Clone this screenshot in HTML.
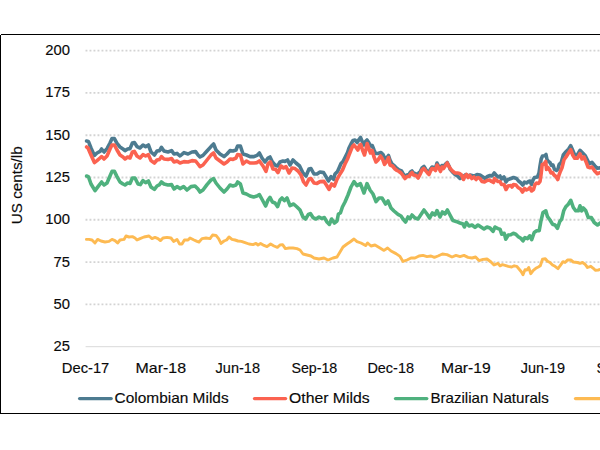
<!DOCTYPE html>
<html><head><meta charset="utf-8"><title>Chart</title>
<style>
html,body{margin:0;padding:0;background:#fff;}
body{width:600px;height:450px;overflow:hidden;font-family:"Liberation Sans",sans-serif;}
svg{display:block}
svg text{font-family:"Liberation Sans",sans-serif;fill:#0a0a0a;stroke:#0a0a0a;stroke-width:0.15px;}
</style></head><body>
<svg width="600" height="450" viewBox="0 0 600 450">
<rect x="0" y="0" width="600" height="450" fill="#fff"/>
<g shape-rendering="crispEdges" fill="#000"><rect x="1" y="34" width="599" height="1"/><rect x="0" y="35" width="1" height="379"/><rect x="0" y="413" width="600" height="1"/></g>
<line x1="85.5" y1="50.6" x2="600" y2="50.6" stroke="#d3d3d3" stroke-width="1.9" stroke-dasharray="1.9 2.1"/>
<line x1="85.5" y1="92.9" x2="600" y2="92.9" stroke="#d3d3d3" stroke-width="1.9" stroke-dasharray="1.9 2.1"/>
<line x1="85.5" y1="135.2" x2="600" y2="135.2" stroke="#d3d3d3" stroke-width="1.9" stroke-dasharray="1.9 2.1"/>
<line x1="85.5" y1="177.5" x2="600" y2="177.5" stroke="#d3d3d3" stroke-width="1.9" stroke-dasharray="1.9 2.1"/>
<line x1="85.5" y1="219.8" x2="600" y2="219.8" stroke="#d3d3d3" stroke-width="1.9" stroke-dasharray="1.9 2.1"/>
<line x1="85.5" y1="262.1" x2="600" y2="262.1" stroke="#d3d3d3" stroke-width="1.9" stroke-dasharray="1.9 2.1"/>
<line x1="85.5" y1="304.4" x2="600" y2="304.4" stroke="#d3d3d3" stroke-width="1.9" stroke-dasharray="1.9 2.1"/>
<line x1="85.6" y1="346.7" x2="600" y2="346.7" stroke="#d9d9d9" stroke-width="1"/>
<text x="70" y="55.0" font-size="14.8" text-anchor="end">200</text>
<text x="70" y="97.3" font-size="14.8" text-anchor="end">175</text>
<text x="70" y="139.6" font-size="14.8" text-anchor="end">150</text>
<text x="70" y="181.9" font-size="14.8" text-anchor="end">125</text>
<text x="70" y="224.2" font-size="14.8" text-anchor="end">100</text>
<text x="70" y="266.5" font-size="14.8" text-anchor="end">75</text>
<text x="70" y="308.8" font-size="14.8" text-anchor="end">50</text>
<text x="70" y="351.1" font-size="14.8" text-anchor="end">25</text>
<text transform="translate(22.3,185.3) rotate(-90)" font-size="14.8" text-anchor="middle" textLength="78" lengthAdjust="spacingAndGlyphs">US cents/lb</text>
<text x="61.800000000000004" y="373.4" font-size="14.8" textLength="47.5" lengthAdjust="spacingAndGlyphs">Dec-17</text>
<text x="135.5" y="373.4" font-size="14.8" textLength="50.5" lengthAdjust="spacingAndGlyphs">Mar-18</text>
<text x="215.6" y="373.4" font-size="14.8" textLength="44.4" lengthAdjust="spacingAndGlyphs">Jun-18</text>
<text x="291.40000000000003" y="373.4" font-size="14.8" textLength="45.9" lengthAdjust="spacingAndGlyphs">Sep-18</text>
<text x="367.40000000000003" y="373.4" font-size="14.8" textLength="46.6" lengthAdjust="spacingAndGlyphs">Dec-18</text>
<text x="441.1" y="373.4" font-size="14.8" textLength="49.6" lengthAdjust="spacingAndGlyphs">Mar-19</text>
<text x="520.8000000000001" y="373.4" font-size="14.8" textLength="44.2" lengthAdjust="spacingAndGlyphs">Jun-19</text>
<text x="596.4" y="373.4" font-size="14.8" textLength="46.6" lengthAdjust="spacingAndGlyphs">Sep-19</text>
<polyline points="86.4,239.4 89.0,239.4 92.0,240.0 95.0,243.0 97.6,239.4 101.0,241.0 105.0,242.0 109.0,241.4 112.0,239.4 115.0,240.6 117.6,243.0 120.0,240.0 124.0,239.4 126.0,236.0 129.0,237.0 132.4,236.6 135.0,238.0 137.0,240.0 140.0,238.6 144.0,237.0 149.0,236.0 152.0,238.6 155.0,237.4 158.0,238.6 160.4,240.6 163.0,238.0 167.0,237.4 171.0,238.0 173.6,241.4 177.0,239.4 179.6,244.0 182.0,244.0 184.4,240.0 188.0,240.0 190.0,238.0 194.0,240.0 197.0,241.4 199.0,242.0 202.0,238.6 206.0,238.0 210.0,238.6 212.6,235.0 216.0,235.4 218.6,238.6 221.0,243.4 224.0,241.0 226.6,240.0 229.0,237.0 232.0,239.4 235.0,240.0 238.0,241.0 241.4,241.4 245.0,242.6 249.0,244.0 253.0,244.6 256.0,243.4 258.0,245.0 260.6,243.4 264.0,245.4 267.0,246.6 270.6,244.0 274.0,246.0 277.4,247.4 280.0,245.0 282.6,244.6 285.4,248.6 289.0,248.0 293.0,248.0 297.0,248.6 300.0,250.0 303.0,254.0 307.0,255.0 311.0,256.0 314.0,258.0 319.0,259.0 324.0,258.0 328.0,260.0 333.0,258.0 337.0,257.0 340.0,252.0 343.0,247.0 347.0,244.0 350.0,242.0 354.0,239.0 357.0,241.6 361.0,243.0 365.6,245.6 367.6,243.0 371.0,246.0 375.0,245.0 380.0,248.0 384.0,250.4 387.6,248.0 391.0,251.0 396.0,253.6 400.0,256.4 403.0,261.4 407.0,260.0 411.0,258.0 415.0,258.0 419.0,256.0 423.0,255.4 427.0,256.6 431.0,256.0 434.4,257.4 438.0,256.0 442.4,254.0 447.0,254.6 452.0,257.0 456.0,255.4 460.0,256.6 464.0,255.4 468.0,257.4 472.0,258.0 475.6,257.0 479.0,260.6 483.0,259.4 487.0,259.0 491.0,262.0 494.0,265.0 498.0,263.4 500.0,265.8 502.5,264.7 505.0,265.3 508.3,266.3 511.7,267.0 514.2,265.8 516.7,266.3 519.2,269.2 521.3,271.7 523.0,274.7 525.0,269.7 527.0,270.0 528.7,267.5 530.8,273.7 533.3,270.3 535.8,268.3 538.3,267.0 540.3,265.8 542.5,259.2 545.3,258.7 547.5,261.3 550.0,262.5 552.5,265.0 555.0,266.3 558.0,268.7 560.0,265.8 563.0,261.7 565.0,262.5 567.5,260.0 570.8,260.0 573.3,262.0 577.5,262.5 580.0,263.3 582.5,262.5 585.0,264.2 587.5,267.5 590.8,266.3 593.3,268.3 595.3,270.3 598.3,270.0 601.0,269.2" fill="none" stroke="#fdba52" stroke-width="2.9" stroke-linejoin="round" stroke-linecap="round"/>
<polyline points="86.6,176.0 88.4,176.6 91.0,184.0 95.0,190.6 98.0,186.6 101.6,182.0 104.0,185.0 107.0,183.0 110.0,176.0 112.0,171.4 114.4,171.4 117.0,176.6 120.0,182.0 123.0,184.0 125.0,185.0 127.6,183.0 130.0,183.4 132.4,178.0 135.0,178.0 138.0,184.0 140.4,184.6 143.0,180.6 145.6,182.6 148.4,181.0 151.0,187.0 154.4,189.4 157.0,186.0 159.6,184.6 161.4,182.0 164.0,184.0 168.0,185.0 171.6,184.6 174.0,189.0 177.0,186.6 180.0,188.6 183.6,186.6 187.0,190.0 191.0,186.6 195.0,186.0 198.0,189.0 200.0,192.0 203.0,190.0 207.0,184.6 211.0,180.0 213.6,178.6 216.0,183.0 220.0,188.0 224.0,192.0 227.0,189.0 230.0,185.0 233.0,186.0 236.0,185.0 237.6,182.0 240.4,184.0 243.0,193.0 246.4,194.0 250.0,196.0 253.6,197.0 257.0,196.0 259.4,194.6 262.4,200.0 265.6,206.0 268.0,200.0 270.0,197.4 272.4,202.0 275.0,203.0 277.6,206.6 280.0,200.0 282.0,198.0 284.4,200.6 287.0,198.0 290.0,205.6 293.6,204.0 297.0,207.0 300.0,210.0 303.0,217.0 305.6,219.0 308.4,214.4 310.4,213.6 313.0,217.6 316.0,219.0 319.0,217.0 321.6,218.4 324.4,217.6 327.0,222.0 329.4,224.4 331.6,219.0 334.4,223.0 337.0,221.0 338.4,214.0 340.4,213.0 342.4,207.0 345.0,202.0 348.0,195.0 351.0,187.0 354.0,181.6 357.0,185.6 360.4,183.6 364.0,193.0 367.0,183.6 370.0,190.0 373.0,194.0 376.0,201.6 379.0,198.0 382.0,198.0 385.6,204.0 388.0,201.0 391.0,208.0 394.0,211.0 398.0,214.4 401.0,216.0 403.0,219.0 405.6,222.0 408.0,217.0 410.0,218.6 412.0,215.0 415.0,218.0 418.0,219.0 421.0,214.6 424.0,210.0 427.0,214.0 429.6,218.0 432.4,213.0 435.0,215.0 437.0,210.6 440.0,217.0 442.4,212.0 445.0,214.0 447.4,210.0 450.0,215.0 453.0,220.6 456.0,221.4 460.0,223.0 463.0,224.0 464.4,227.0 466.4,222.6 469.0,226.0 472.0,225.0 475.0,227.4 478.0,225.0 481.0,227.0 484.0,229.0 487.0,227.0 490.0,228.0 493.0,231.4 495.0,227.0 498.0,228.6 500.0,229.2 501.7,234.2 504.2,233.3 505.8,239.2 508.3,235.0 510.8,234.7 513.3,233.3 515.8,234.2 518.3,236.7 520.8,238.3 523.0,240.8 525.0,237.5 527.5,238.7 529.7,235.8 531.7,239.7 534.2,232.5 536.7,230.8 539.2,230.8 540.8,221.7 543.0,212.5 545.8,210.8 547.5,216.7 550.0,220.0 552.5,224.2 555.0,225.0 557.5,228.3 559.7,221.7 561.7,219.2 563.7,210.8 565.8,206.7 568.3,204.2 570.8,200.3 573.3,207.5 575.8,210.8 578.3,210.8 580.0,205.8 581.7,210.8 583.3,208.0 585.8,210.8 588.3,217.5 591.3,217.5 594.2,222.5 597.5,225.0 601.0,222.5" fill="none" stroke="#4fb17e" stroke-width="3.6" stroke-linejoin="round" stroke-linecap="round"/>
<polyline points="86.6,141.0 88.4,141.4 91.0,148.0 94.4,155.4 97.0,153.0 100.0,151.4 101.6,149.0 104.0,152.0 107.0,148.6 110.0,143.0 112.0,138.6 114.4,138.6 117.0,143.4 120.0,147.0 123.0,149.0 125.0,150.6 127.6,149.0 130.0,148.6 132.4,143.0 134.4,142.6 137.0,146.6 140.0,148.0 143.0,145.0 145.6,146.6 148.4,145.0 151.0,152.0 154.4,155.0 157.0,151.0 159.6,150.6 161.4,147.4 164.0,151.0 168.0,152.0 171.6,150.6 174.0,154.0 177.0,153.4 180.0,156.0 184.0,152.6 188.0,154.0 192.0,152.0 195.6,151.6 198.0,155.0 200.0,157.0 203.0,155.4 207.0,151.0 211.0,146.6 213.6,144.0 216.0,150.0 220.0,154.0 224.0,156.6 227.0,154.0 230.0,150.6 233.0,151.0 236.0,150.0 237.6,146.0 240.4,146.0 243.0,154.0 246.4,155.0 250.0,156.6 254.0,156.6 257.0,155.4 259.4,153.0 262.0,158.0 265.0,162.0 268.0,158.0 270.0,157.0 272.4,162.0 275.0,165.0 277.6,166.0 280.0,162.0 283.0,161.0 285.0,161.4 287.6,160.0 290.0,165.0 293.0,160.0 296.0,163.0 299.6,166.0 303.0,173.0 306.0,176.0 309.0,169.0 311.0,168.6 314.0,174.0 317.0,174.0 320.0,172.0 323.6,172.6 326.0,176.6 328.4,181.0 331.0,176.6 333.6,179.4 335.0,174.0 337.5,171.5 339.5,167.0 341.0,163.5 343.0,161.5 345.5,156.5 347.5,152.5 349.0,148.0 351.0,144.0 353.0,140.5 355.0,140.0 357.2,142.5 359.0,139.5 360.5,137.5 362.0,141.0 364.0,145.0 365.5,141.5 367.0,140.0 369.0,143.0 370.5,146.0 372.2,145.5 374.0,150.0 375.5,153.5 378.0,153.5 381.0,152.5 383.0,154.5 385.0,159.0 387.0,157.5 388.5,155.5 390.0,160.0 392.0,164.0 395.0,166.5 397.0,168.5 399.0,170.0 401.5,171.0 403.0,173.5 405.0,176.5 407.0,175.0 409.0,174.5 410.5,172.0 412.0,171.0 413.5,173.0 416.0,174.0 418.2,175.5 419.0,172.5 420.0,172.0 422.0,168.0 424.0,166.5 425.5,169.0 427.5,171.5 429.0,172.5 430.5,169.0 432.0,167.0 434.0,167.5 435.5,168.0 437.0,163.0 438.5,166.0 440.5,169.5 442.0,165.5 443.5,167.0 445.5,164.0 447.2,162.5 449.0,166.0 450.0,169.0 453.0,172.5 455.0,174.5 457.5,176.0 460.0,178.5 462.0,177.0 464.0,176.0 466.0,174.5 468.0,176.0 470.0,175.0 472.0,175.5 474.0,176.0 477.0,174.5 480.0,175.0 483.0,177.0 485.0,178.5 487.5,176.5 490.0,175.5 492.0,176.0 494.2,173.0 496.0,175.0 498.0,177.0 500.0,176.0 501.5,179.0 504.0,177.0 506.0,182.0 508.0,179.5 511.0,178.5 513.5,177.5 516.5,178.5 518.5,181.0 520.5,182.5 522.8,185.0 524.5,182.0 526.5,183.0 528.5,181.5 530.0,181.0 531.5,184.5 533.0,180.0 534.5,177.5 537.5,177.0 539.0,173.0 540.0,166.0 541.2,159.0 542.5,156.0 544.5,155.8 546.0,154.5 547.0,159.5 548.5,161.5 550.0,162.5 551.5,165.5 553.0,165.0 554.5,169.5 556.5,170.5 558.0,169.0 559.0,165.0 559.3,164.3 561.3,162.3 563.3,155.0 566.0,151.7 568.7,149.0 570.7,145.7 572.7,150.3 574.7,155.0 577.3,155.0 580.0,150.3 582.7,153.0 585.3,155.7 587.3,159.7 589.3,163.7 592.0,162.3 594.7,165.7 597.3,168.3 601.0,167.7" fill="none" stroke="#4d7b90" stroke-width="3.6" stroke-linejoin="round" stroke-linecap="round"/>
<polyline points="86.6,147.0 88.0,148.0 91.0,155.0 94.4,162.6 97.0,160.6 100.0,158.0 101.6,156.6 104.0,159.0 107.0,156.0 110.0,149.0 112.0,145.0 114.4,145.0 117.0,150.0 120.0,155.0 123.0,157.0 125.0,159.0 127.6,157.0 130.0,158.0 132.4,152.0 134.4,151.4 137.0,156.0 140.0,158.0 143.0,154.6 145.6,156.0 148.4,154.6 151.0,160.6 154.4,163.0 157.0,160.0 159.6,159.4 161.4,156.6 164.0,159.0 168.0,159.4 171.6,158.6 174.0,162.0 177.0,161.0 180.0,163.0 184.0,161.6 188.0,162.0 192.0,160.6 195.6,161.0 198.0,164.0 200.0,166.6 203.0,165.0 207.0,160.0 211.0,155.0 213.6,153.0 216.0,158.0 220.0,161.0 224.0,164.0 227.0,162.0 230.0,159.0 233.0,159.4 236.0,158.0 237.6,154.6 240.4,155.0 243.0,164.0 246.4,161.0 250.0,163.0 254.0,163.0 257.0,162.6 259.4,161.0 263.0,166.0 266.0,171.4 268.0,164.0 270.4,162.0 273.0,169.0 275.6,169.4 278.0,172.6 281.0,166.0 283.6,168.0 286.0,166.6 289.0,173.0 292.0,168.0 295.0,168.6 298.0,171.0 301.0,175.0 303.6,182.0 306.0,185.0 309.0,179.0 311.0,178.6 314.0,183.0 317.0,183.4 320.0,181.6 324.0,181.4 326.4,185.0 329.0,189.4 331.6,184.0 334.4,186.0 337.0,179.4 340.0,174.0 342.5,170.0 345.0,164.0 347.5,159.0 349.0,155.0 351.0,150.0 352.5,146.5 354.0,145.0 356.0,147.5 357.8,150.0 359.5,145.5 360.8,144.5 362.5,150.0 364.5,155.0 366.0,149.0 367.2,143.5 369.0,149.0 370.5,153.0 372.2,150.5 374.0,157.0 376.0,162.0 378.0,160.0 380.5,156.0 382.5,159.0 384.5,164.5 386.5,162.0 388.5,157.5 390.0,165.0 392.5,166.0 395.0,169.0 397.0,170.5 399.0,171.5 401.0,173.0 403.0,175.5 405.0,178.5 407.0,176.5 409.0,176.5 410.5,174.0 412.0,172.5 413.5,175.0 416.0,175.5 418.2,178.0 420.0,174.5 422.0,170.0 423.8,168.5 425.5,170.5 427.5,173.0 429.0,174.5 430.5,171.0 432.0,168.5 434.0,169.0 435.5,170.5 437.0,165.0 438.5,167.5 440.5,171.5 442.0,167.0 443.5,168.5 445.5,165.5 447.2,163.0 449.0,166.5 451.0,169.5 453.0,171.5 455.0,173.0 457.5,173.0 459.5,173.5 461.5,175.0 463.5,179.5 465.0,176.0 466.5,174.5 468.2,177.5 469.8,175.5 471.8,178.5 474.0,177.0 476.0,179.5 478.0,177.5 480.0,178.5 482.0,181.5 484.5,182.0 487.0,180.5 489.5,180.0 491.5,181.5 493.5,182.5 494.5,178.5 496.0,180.0 498.0,181.5 500.0,181.5 501.5,184.5 504.0,184.5 506.0,189.5 508.0,186.0 511.0,185.5 512.0,187.0 513.5,184.5 516.0,185.0 518.0,187.5 520.5,189.0 522.5,192.0 524.5,188.5 526.5,190.0 528.5,189.0 530.0,187.5 531.5,191.0 533.5,189.5 535.0,184.5 536.5,183.0 538.5,183.5 540.0,181.5 541.0,175.0 542.2,164.5 544.0,164.0 545.7,161.5 546.5,169.5 548.0,167.5 549.5,169.5 551.0,173.0 552.5,172.5 554.0,175.0 556.0,176.5 557.8,179.5 559.0,175.0 560.0,172.3 562.0,167.7 564.0,159.7 566.0,157.0 568.0,153.7 570.7,149.7 572.7,155.0 574.7,158.3 577.3,158.3 580.0,153.7 582.0,159.0 584.0,157.0 586.0,161.7 588.0,167.0 590.0,167.7 592.0,167.0 594.7,171.0 597.3,173.7 601.0,172.3" fill="none" stroke="#fb6250" stroke-width="3.6" stroke-linejoin="round" stroke-linecap="round"/>
<line x1="79.6" y1="398.6" x2="111.2" y2="398.6" stroke="#4d7b90" stroke-width="3.3" stroke-linecap="round"/>
<text x="114.6" y="403.4" font-size="14.8" textLength="114.0" lengthAdjust="spacingAndGlyphs">Colombian Milds</text>
<line x1="254.5" y1="398.6" x2="285.6" y2="398.6" stroke="#fb6250" stroke-width="3.3" stroke-linecap="round"/>
<text x="289.0" y="403.4" font-size="14.8" textLength="80.6" lengthAdjust="spacingAndGlyphs">Other Milds</text>
<line x1="395.5" y1="398.6" x2="426.8" y2="398.6" stroke="#4fb17e" stroke-width="3.3" stroke-linecap="round"/>
<text x="430.4" y="403.4" font-size="14.8" textLength="118.4" lengthAdjust="spacingAndGlyphs">Brazilian Naturals</text>
<line x1="575.5" y1="398.6" x2="610" y2="398.6" stroke="#fdba52" stroke-width="3.3" stroke-linecap="round"/>
<text x="612" y="403.4" font-size="14.8" textLength="68.0" lengthAdjust="spacingAndGlyphs">Robustas</text>
</svg></body></html>
